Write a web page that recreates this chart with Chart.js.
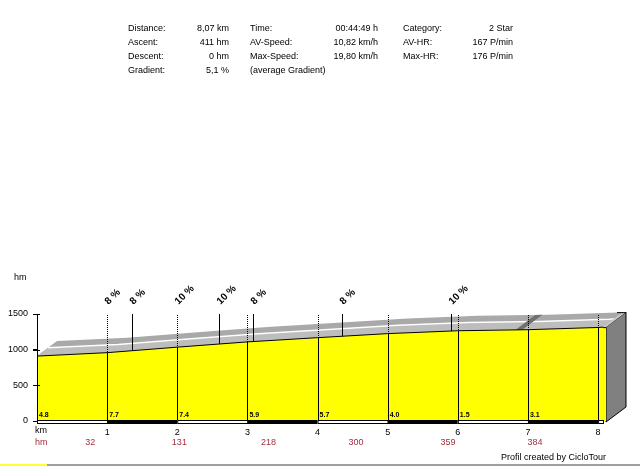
<!DOCTYPE html>
<html><head><meta charset="utf-8">
<script src="https://cdn.jsdelivr.net/npm/chart.js@4"></script>
<style>
html,body{margin:0;padding:0;background:#fff;}
#wrap{position:relative;width:640px;height:466px;overflow:hidden;font-family:"Liberation Sans",Arial,sans-serif;}
canvas{position:absolute;left:0;top:0;}
.t{position:absolute;font-size:9px;line-height:11px;white-space:nowrap;color:#000;}
</style></head>
<body>
<div id="wrap">
<canvas id="c" width="640" height="466"></canvas>
<div id="hdr"></div>
<div style="position:absolute;left:0;top:464px;width:47px;height:2px;background:#ffff33"></div>
<div style="position:absolute;left:47px;top:464px;width:593px;height:2px;background:#a0a0a0"></div>
</div>
<script>
// ---- data ----
const kmPoints   = [0, 1, 2, 3, 4, 5, 6, 7, 8, 8.07];
const elevation  = [910, 958, 1035, 1109, 1168, 1225, 1265, 1280, 1311, 1316];
const segmentGradients = ['4.8', '7.7', '7.4', '5.9', '5.7', '4.0', '1.5', '3.1'];
const peakKm     = [1.0, 1.36, 2.0, 2.6, 3.08, 4.35, 5.9];
const peakLabels = ['8 %', '8 %', '10 %', '10 %', '8 %', '8 %', '10 %'];
const hmKm       = [0.76, 2.03, 3.3, 4.55, 5.86, 7.1];
const hmValues   = [32, 131, 218, 300, 359, 384];
const shadeKm    = [6.82, 6.92];
const yTickStep  = 500;
const headerLabels = [
  ['Distance:', '8,07 km', 'Time:', '00:44:49 h', 'Category:', '2 Star'],
  ['Ascent:', '411 hm', 'AV-Speed:', '10,82 km/h', 'AV-HR:', '167 P/min'],
  ['Descent:', '0 hm', 'Max-Speed:', '19,80 km/h', 'Max-HR:', '176 P/min'],
  ['Gradient:', '5,1 %', '(average Gradient)', '', '', '']
];

// ---- header ----
(function(){
  const hdr = document.getElementById('hdr');
  const rowTop = [23, 37, 51, 65];
  const labelLeft = [128, 250, 403];
  const valueRight = [229, 378, 513];
  headerLabels.forEach((row, r) => {
    for (let c = 0; c < 3; c++) {
      const l = row[c*2], v = row[c*2+1];
      if (l) { const d = document.createElement('div'); d.className='t'; d.style.left=labelLeft[c]+'px'; d.style.top=rowTop[r]+'px'; d.textContent=l; hdr.appendChild(d); }
      if (v) { const d = document.createElement('div'); d.className='t'; d.style.right=(640-valueRight[c])+'px'; d.style.top=rowTop[r]+'px'; d.textContent=v; hdr.appendChild(d); }
    }
  });
})();

const FAM = "'Liberation Sans', Arial, sans-serif";
function elevAt(k){
  for (let i = 0; i < kmPoints.length - 1; i++) {
    if (k <= kmPoints[i+1]) {
      const t = (k - kmPoints[i]) / (kmPoints[i+1] - kmPoints[i]);
      return elevation[i] + t * (elevation[i+1] - elevation[i]);
    }
  }
  return elevation[elevation.length-1];
}
const D = {x: 20, y: -15};

const profilePlugin = {
  id: 'profile',
  beforeDatasetsDraw(chart){
    const ctx = chart.ctx, xs = chart.scales.x, ys = chart.scales.y, ca = chart.chartArea;
    const pts = kmPoints.map((k,i)=>({x: xs.getPixelForValue(k), y: ys.getPixelForValue(elevation[i])}));
    function band(f0, f1, color){
      ctx.beginPath();
      pts.forEach((p,i)=>{ const X=p.x+D.x*f0, Y=p.y+D.y*f0; i?ctx.lineTo(X,Y):ctx.moveTo(X,Y); });
      for (let i = pts.length-1; i >= 0; i--) ctx.lineTo(pts[i].x+D.x*f1, pts[i].y+D.y*f1);
      ctx.closePath(); ctx.fillStyle = color; ctx.fill();
    }
    ctx.save();
    band(0, 1, '#a9a9a9');
    band(0, 0.5, '#bdbdbd');
    // white line
    ctx.beginPath();
    pts.forEach((p,i)=>{ const X=p.x+D.x*0.55, Y=p.y+D.y*0.55; i?ctx.lineTo(X,Y):ctx.moveTo(X,Y); });
    ctx.strokeStyle = '#ffffff'; ctx.lineWidth = 1.5; ctx.stroke();
    // dark stripe
    const a = {x: xs.getPixelForValue(shadeKm[0]), y: ys.getPixelForValue(elevAt(shadeKm[0]))};
    const b = {x: xs.getPixelForValue(shadeKm[1]), y: ys.getPixelForValue(elevAt(shadeKm[1]))};
    ctx.beginPath(); ctx.moveTo(a.x,a.y); ctx.lineTo(b.x,b.y); ctx.lineTo(b.x+D.x,b.y+D.y); ctx.lineTo(a.x+D.x,a.y+D.y); ctx.closePath();
    ctx.fillStyle = '#707070'; ctx.fill();
    // side panel
    const e = pts[pts.length-1];
    const ex = e.x + 3;
    ctx.beginPath();
    ctx.moveTo(ex, e.y); ctx.lineTo(ex+D.x, e.y+D.y); ctx.lineTo(ex+D.x, ca.bottom+D.y+1); ctx.lineTo(ex, ca.bottom+1); ctx.closePath();
    ctx.fillStyle = '#808080'; ctx.fill();
    ctx.strokeStyle = '#000'; ctx.lineWidth = 1; ctx.stroke();
    // top face end strip
    ctx.beginPath(); ctx.moveTo(e.x, e.y); ctx.lineTo(ex, e.y); ctx.lineTo(ex+D.x, e.y+D.y); ctx.lineTo(e.x+D.x, e.y+D.y); ctx.closePath();
    ctx.fillStyle = '#c4c4c4'; ctx.fill();
    ctx.beginPath(); ctx.moveTo(e.x+D.x-6, e.y+D.y+0.5); ctx.lineTo(ex+D.x, e.y+D.y+0.5); ctx.stroke();
    ctx.restore();
  },
  afterDatasetsDraw(chart){
    const ctx = chart.ctx, xs = chart.scales.x, ys = chart.scales.y, ca = chart.chartArea;
    const top = ys.getPixelForValue(ys.max);
    const bot = ys.getPixelForValue(0);
    ctx.save();
    ctx.strokeStyle = '#000'; ctx.lineWidth = 1;
    // end strip of yellow at right
    const e = {x: xs.getPixelForValue(kmPoints[kmPoints.length-1]), y: ys.getPixelForValue(elevation[elevation.length-1])};
    ctx.fillStyle = '#ffff00'; ctx.fillRect(e.x, e.y, 3, bot - e.y);
    ctx.beginPath(); ctx.moveTo(e.x, e.y+0.5); ctx.lineTo(e.x+3, e.y+0.5); ctx.stroke();
    // axis
    ctx.beginPath(); ctx.moveTo(ca.left+0.5, top); ctx.lineTo(ca.left+0.5, bot); ctx.stroke();
    for (let v = 0; v <= ys.max; v += yTickStep) {
      const y = Math.round(ys.getPixelForValue(v)) + 0.5;
      ctx.beginPath(); ctx.moveTo(ca.left-4, y); ctx.lineTo(ca.left+3, y); ctx.stroke();
    }
    // km lines
    for (let k = 1; k <= 8; k++) {
      const x = Math.round(xs.getPixelForValue(k)) + 0.5;
      const py = ys.getPixelForValue(elevAt(k));
      ctx.setLineDash([]);
      ctx.beginPath(); ctx.moveTo(x, py); ctx.lineTo(x, bot); ctx.stroke();
      ctx.setLineDash([1, 1]);
      ctx.beginPath(); ctx.moveTo(x, top+1); ctx.lineTo(x, py); ctx.stroke();
    }
    ctx.setLineDash([]);
    // peak lines and labels
    peakKm.forEach((k, i) => {
      const x = Math.round(xs.getPixelForValue(k)) + 0.5;
      const py = ys.getPixelForValue(elevAt(k));
      if (Math.abs(k - Math.round(k)) > 0.001) {
        ctx.beginPath(); ctx.moveTo(x, top); ctx.lineTo(x, py); ctx.stroke();
      }
      ctx.save();
      ctx.translate(x + 1, top - 9);
      ctx.rotate(-Math.PI/4);
      ctx.font = 'bold 10px ' + FAM; ctx.fillStyle = '#000';
      ctx.textAlign = 'left'; ctx.textBaseline = 'alphabetic';
      ctx.fillText(peakLabels[i], 0, 0);
      ctx.restore();
    });
    // segment gradients
    ctx.font = 'bold 7px ' + FAM; ctx.fillStyle = '#000'; ctx.textAlign = 'left'; ctx.textBaseline = 'middle';
    segmentGradients.forEach((g, i) => {
      ctx.fillText(g, xs.getPixelForValue(i) + 2, bot - 6);
    });
    // scale bar
    for (let i = 0; i < kmPoints.length - 1; i++) {
      const x0 = xs.getPixelForValue(kmPoints[i]), x1 = xs.getPixelForValue(kmPoints[i+1]);
      if (i % 2 === 1) { ctx.fillStyle = '#000'; ctx.fillRect(x0, bot-1, x1-x0, 4); }
      else { ctx.fillStyle = '#fff'; ctx.fillRect(x0, bot-1, x1-x0, 4); ctx.strokeRect(x0+0.5, bot-0.5, x1-x0, 3); }
    }
    // texts
    ctx.font = '9px ' + FAM; ctx.fillStyle = '#000'; ctx.textBaseline = 'middle'; ctx.textAlign = 'left';
    ctx.fillText('hm', 14, 278);
    ctx.fillText('km', 35, 431);
    ctx.fillStyle = '#a3303f';
    ctx.fillText('hm', 35, 443);
    ctx.textAlign = 'center';
    hmValues.forEach((v, i) => ctx.fillText(String(v), xs.getPixelForValue(hmKm[i]), 443));
    ctx.fillStyle = '#000'; ctx.textAlign = 'right';
    ctx.font = '9px ' + FAM;
    ctx.fillText('Profil created by CicloTour', 606, 458);
    ctx.restore();
  }
};

new Chart(document.getElementById('c'), {
  type: 'line',
  data: { datasets: [{
    data: kmPoints.map((k, i) => ({x: k, y: elevation[i]})),
    borderColor: '#000', borderWidth: 1, backgroundColor: '#ffff00',
    fill: 'origin', pointRadius: 0, tension: 0
  }]},
  options: {
    responsive: false, animation: false, devicePixelRatio: 1,
    layout: { padding: { top: 314, right: 37, left: 0, bottom: 0 } },
    plugins: { legend: { display: false }, tooltip: { enabled: false } },
    scales: {
      x: {
        type: 'linear', min: 0, max: kmPoints[kmPoints.length-1],
        afterFit(s){ s.height = 45; },
        grid: { display: false }, border: { display: false },
        ticks: { stepSize: 1, includeBounds: false, autoSkip: false, maxRotation: 0, padding: -2,
          color: '#000', font: { size: 9, family: FAM },
          callback: v => v === 0 ? '' : String(v) }
      },
      y: {
        min: 0, max: 1500,
        afterFit(s){ s.width = 37; },
        grid: { drawOnChartArea: false, drawTicks: true, tickLength: 4, color: '#000' },
        border: { display: true, color: '#000' },
        ticks: { stepSize: yTickStep, padding: 5, color: '#000', font: { size: 9, family: FAM },
          callback: v => String(v) }
      }
    }
  },
  plugins: [profilePlugin]
});
</script>
</body></html>
